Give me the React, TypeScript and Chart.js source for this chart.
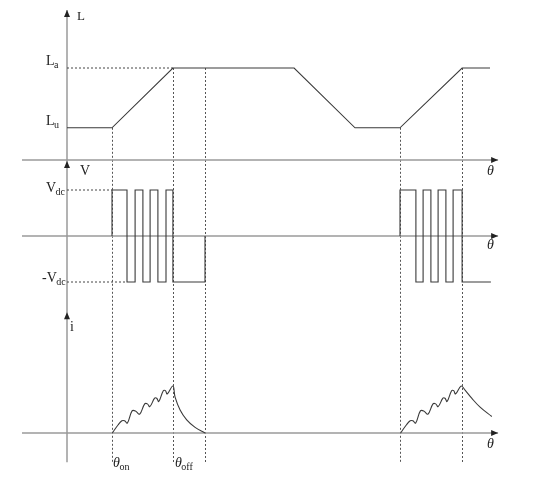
import React, { useEffect, useRef } from 'react';
import { Chart, registerables } from 'chart.js';

Chart.register(...registerables);

// rotor angle θ (deg) and phase quantities, per unit
const inductanceTheta = [0, 15, 35.3, 75.7, 96, 111, 131.7, 141];
const inductance = [0.35, 0.35, 1, 1, 0.35, 0.35, 1, 1];
const LEVEL_LU = 0.35;
const LEVEL_LA = 1;

const voltageTheta1 = [15, 15, 20, 22.7, 25.3, 27.7, 30.3, 33, 35.3, 46];
const voltage1 = [0, 1, -1, 1, -1, 1, -1, 1, -1, 0];
const voltageTheta2 = [111, 111, 116.3, 118.7, 121.3, 123.7, 126.3, 128.7, 131.7, 141.3];
const voltage2 = [0, 1, -1, 1, -1, 1, -1, 1, -1, -1];

const currentTheta1 = [15.1, 17, 18.3, 19.2, 20.1, 21.7, 22.8, 24.2, 25.9, 26.8, 27.6, 29.2, 29.9, 30.6, 32.1, 32.8, 33.4, 35.3, 36, 37.7, 39.9, 42.7, 46];
const current1 = [0, 0.17, 0.26, 0.26, 0.21, 0.47, 0.47, 0.4, 0.62, 0.62, 0.56, 0.74, 0.74, 0.67, 0.9, 0.9, 0.83, 1, 0.77, 0.49, 0.28, 0.12, 0];
const currentTheta2 = [111.2, 113.1, 114.4, 115.3, 116.2, 117.8, 118.9, 120.3, 122, 122.9, 123.7, 125.3, 126, 126.7, 128.2, 128.9, 129.5, 131.4, 132.7, 134.9, 137.7, 141.6];
const current2 = [0, 0.17, 0.26, 0.26, 0.21, 0.47, 0.47, 0.4, 0.62, 0.62, 0.56, 0.74, 0.74, 0.67, 0.9, 0.9, 0.83, 1, 0.91, 0.74, 0.55, 0.35];

// switching angles that get a dashed guide, and the L level where each guide starts
const guideTheta = [15, 35.3, 46, 111, 131.7];
const guideLevel = [LEVEL_LU, LEVEL_LA, LEVEL_LA, LEVEL_LU, LEVEL_LA];

// layout of the three stacked panels (pixels)
const W = 542;
const H = 480;
const X0 = 67; // θ = 0
const PX_PER_DEG = 3;
const panels = {
  yL: { zero: 160, unit: 92 },
  yV: { zero: 236, unit: 46 },
  yI: { zero: 433, unit: 47 },
};

const scaleFor = (p: { zero: number; unit: number }) => ({
  type: 'linear' as const,
  display: false,
  min: (p.zero - H) / p.unit,
  max: p.zero / p.unit,
});

const pts = (xs: number[], ys: number[]) => xs.map((x, i) => ({ x, y: ys[i] }));

const INK = '#3a3a3a';
const AXIS = '#9a9a9a';
const SERIF = '"Liberation Serif", "DejaVu Serif", serif';

const line = (data: { x: number; y: number }[], yAxisID: string, extra: object = {}) => ({
  data,
  yAxisID,
  borderColor: INK,
  borderWidth: 1.1,
  pointRadius: 0,
  fill: false,
  ...extra,
});

const overlay = {
  id: 'overlay',
  beforeDatasetsDraw(chart: any) {
    const { ctx, scales } = chart;
    const x = scales.x;
    const yL = scales.yL;
    const yV = scales.yV;
    const yI = scales.yI;
    const x0 = x.getPixelForValue(0);
    const xLeft = x.getPixelForValue(-15);
    const xRight = x.getPixelForValue(143.7);
    const bottom = yI.getPixelForValue(-0.62);
    ctx.save();

    // dashed guides through all panels
    ctx.strokeStyle = '#555';
    ctx.lineWidth = 1;
    ctx.setLineDash([2, 2]);
    guideTheta.forEach((t, i) => {
      const gx = Math.round(x.getPixelForValue(t)) + 0.5;
      ctx.beginPath();
      ctx.moveTo(gx, yL.getPixelForValue(guideLevel[i]));
      ctx.lineTo(gx, bottom);
      ctx.stroke();
    });
    ctx.setLineDash([]);

    // axes
    ctx.strokeStyle = AXIS;
    ctx.lineWidth = 1.5;
    const tips = [yL.getPixelForValue(1.63), yV.getPixelForValue(1.63), yI.getPixelForValue(2.57)];
    ctx.beginPath();
    ctx.moveTo(x0, tips[0]);
    ctx.lineTo(x0, bottom);
    [yL, yV, yI].forEach((s) => {
      const py = s.getPixelForValue(0);
      ctx.moveTo(xLeft, py);
      ctx.lineTo(xRight, py);
    });
    ctx.stroke();

    ctx.fillStyle = '#222';
    tips.forEach((ty) => {
      ctx.beginPath();
      ctx.moveTo(x0, ty);
      ctx.lineTo(x0 - 3, ty + 7);
      ctx.lineTo(x0 + 3, ty + 7);
      ctx.closePath();
      ctx.fill();
    });
    [yL, yV, yI].forEach((s) => {
      const py = s.getPixelForValue(0);
      ctx.beginPath();
      ctx.moveTo(xRight, py);
      ctx.lineTo(xRight - 7, py - 3);
      ctx.lineTo(xRight - 7, py + 3);
      ctx.closePath();
      ctx.fill();
    });
    ctx.restore();
  },
  afterDraw(chart: any) {
    const { ctx, scales } = chart;
    const x = scales.x;
    const yL = scales.yL;
    const yV = scales.yV;
    const yI = scales.yI;
    ctx.save();
    ctx.fillStyle = '#222';
    ctx.textBaseline = 'alphabetic';

    const sub = (main: string, s: string, px: number, py: number, italic = false) => {
      ctx.font = `${italic ? 'italic ' : ''}14px ${SERIF}`;
      ctx.fillText(main, px, py);
      const w = ctx.measureText(main).width;
      ctx.font = `10px ${SERIF}`;
      ctx.fillText(s, px + w - 0.5, py + 3);
    };

    ctx.font = `13px ${SERIF}`;
    ctx.fillText('L', 77, yL.getPixelForValue(1.63) + 10);
    sub('L', 'a', 46, yL.getPixelForValue(LEVEL_LA) - 3);
    sub('L', 'u', 46, yL.getPixelForValue(LEVEL_LU) - 3);

    ctx.font = `14px ${SERIF}`;
    ctx.fillText('V', 80, yV.getPixelForValue(1.63) + 14);
    sub('V', 'dc', 46, yV.getPixelForValue(1) + 2);
    sub('-V', 'dc', 42, yV.getPixelForValue(-1));

    ctx.font = `14px ${SERIF}`;
    ctx.fillText('i', 70, yI.getPixelForValue(2.57) + 19);

    ctx.font = `italic 14px ${SERIF}`;
    const thetaX = x.getPixelForValue(140);
    ctx.fillText('θ', thetaX, yL.getPixelForValue(0) + 15);
    ctx.fillText('θ', thetaX, yV.getPixelForValue(0) + 13);
    ctx.fillText('θ', thetaX, yI.getPixelForValue(0) + 15);

    const labelY = yI.getPixelForValue(0) + 34;
    sub('θ', 'on', x.getPixelForValue(guideTheta[0]) + 1, labelY, true);
    sub('θ', 'off', x.getPixelForValue(guideTheta[1]) + 2, labelY, true);
    ctx.restore();
  },
};

const App: React.FC = () => {
  const canvasRef = useRef<HTMLCanvasElement>(null);

  useEffect(() => {
    if (!canvasRef.current) return;
    const ctx = canvasRef.current.getContext('2d');
    if (!ctx) return;

    const chart = new Chart(ctx, {
      type: 'line',
      data: {
        datasets: [
          line(pts(inductanceTheta, inductance), 'yL'),
          line(pts([0, 35.3], [LEVEL_LA, LEVEL_LA]), 'yL', { borderColor: '#444', borderWidth: 1, borderDash: [2, 2] }),
          line(pts([0, 15], [1, 1]), 'yV', { borderColor: '#444', borderWidth: 1, borderDash: [2, 2] }),
          line(pts([0, 20], [-1, -1]), 'yV', { borderColor: '#444', borderWidth: 1, borderDash: [2, 2] }),
          line(pts(voltageTheta1, voltage1), 'yV', { stepped: true }),
          line(pts(voltageTheta2, voltage2), 'yV', { stepped: true }),
          line(pts(currentTheta1, current1), 'yI', { tension: 0.4 }),
          line(pts(currentTheta2, current2), 'yI', { tension: 0.4 }),
        ] as any,
      },
      options: {
        animation: false,
        responsive: true,
        maintainAspectRatio: false,
        events: [],
        layout: { padding: 0 },
        plugins: {
          legend: { display: false },
          tooltip: { enabled: false },
        },
        scales: {
          x: {
            type: 'linear',
            display: false,
            min: -X0 / PX_PER_DEG,
            max: (W - X0) / PX_PER_DEG,
          },
          yL: scaleFor(panels.yL),
          yV: scaleFor(panels.yV),
          yI: scaleFor(panels.yI),
        },
      },
      plugins: [overlay],
    });

    return () => {
      chart.destroy();
    };
  }, []);

  return (
    <div style={{ position: 'fixed', left: 0, top: 0, width: W, height: H, background: '#fff' }}>
      <canvas ref={canvasRef}></canvas>
    </div>
  );
};

export default App;
